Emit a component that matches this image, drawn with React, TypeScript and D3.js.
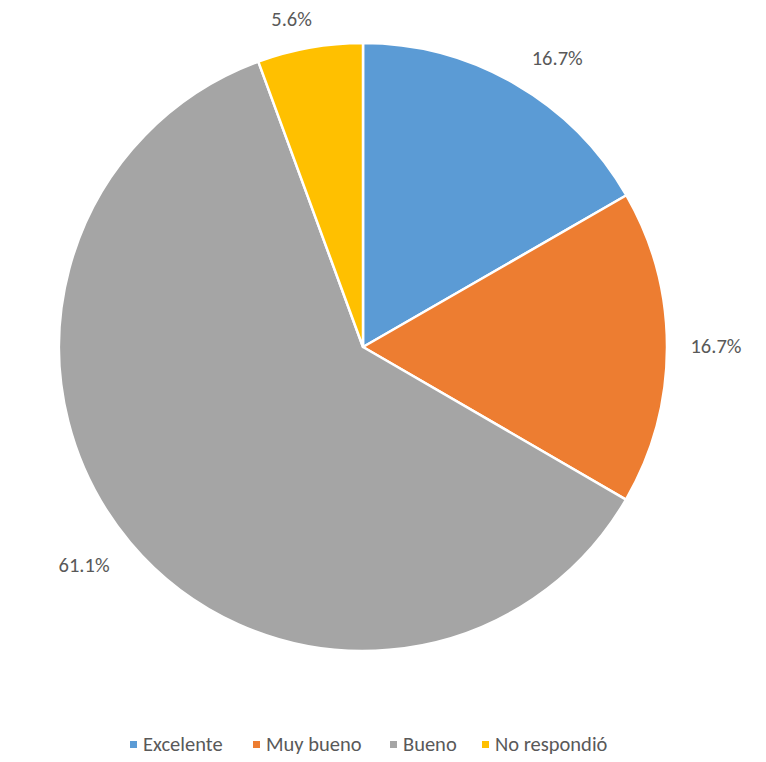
import { useEffect, useRef } from "react";
import * as d3 from "d3";

const categories = ["Excelente", "Muy bueno", "Bueno", "No respondió"];
const values = [16.7, 16.7, 61.1, 5.6];
const colors = ["#5B9BD5", "#ED7D31", "#A5A5A5", "#FFC000"];

// layout of the outside labels (radius from centre, angle nudge in degrees)
const labelRadius = [348, 353, 354, 336];
const labelNudge = [3.9, -0.3, 2, -2.2];
const legendX = [130, 253, 390, 482];

export default function App() {
  const svgRef = useRef<SVGSVGElement>(null);

  useEffect(() => {
    if (!svgRef.current) return;
    const svg = d3.select(svgRef.current);
    svg.selectAll("*").remove();

    const cx = 363;
    const cy = 347;
    const radius = 304;
    const font = "Carlito, Calibri, Lato, sans-serif";

    const pie = d3
      .pie<number>()
      .sort(null)
      .value((d) => d);
    const arcs = pie(values);

    const arc = d3.arc<d3.PieArcDatum<number>>().innerRadius(0).outerRadius(radius);

    const g = svg.append("g").attr("transform", `translate(${cx},${cy})`);

    g.selectAll("path")
      .data(arcs)
      .enter()
      .append("path")
      .attr("d", arc)
      .attr("fill", (_d, i) => colors[i])
      .attr("stroke", "#fff")
      .attr("stroke-width", 2.5)
      .attr("stroke-linejoin", "round");

    const labelPos = (d: d3.PieArcDatum<number>, i: number) => {
      const a = (d.startAngle + d.endAngle) / 2 + (labelNudge[i] * Math.PI) / 180;
      return [Math.sin(a) * labelRadius[i], -Math.cos(a) * labelRadius[i]];
    };

    // Percent labels outside the slices
    g.selectAll("text")
      .data(arcs)
      .enter()
      .append("text")
      .attr("x", (d, i) => labelPos(d, i)[0])
      .attr("y", (d, i) => labelPos(d, i)[1])
      .attr("text-anchor", "middle")
      .attr("dominant-baseline", "central")
      .style("font-family", font)
      .style("font-size", "20.5px")
      .style("fill", "#595959")
      .text((d) => `${d.data.toFixed(1)}%`);

    // Legend
    const legend = svg
      .append("g")
      .selectAll("g")
      .data(categories)
      .enter()
      .append("g")
      .attr("transform", (_d, i) => `translate(${legendX[i]},744)`);

    legend
      .append("rect")
      .attr("x", 0)
      .attr("y", -3)
      .attr("width", 7)
      .attr("height", 7)
      .attr("fill", (_d, i) => colors[i]);

    legend
      .append("text")
      .attr("x", 13)
      .attr("y", 0)
      .attr("dominant-baseline", "central")
      .style("font-family", font)
      .style("font-size", "20.5px")
      .style("fill", "#595959")
      .text((d) => d);
  }, []);

  return (
    <svg
      ref={svgRef}
      width={766}
      height={762}
      style={{ position: "absolute", left: 0, top: 0, background: "#fff" }}
    />
  );
}
